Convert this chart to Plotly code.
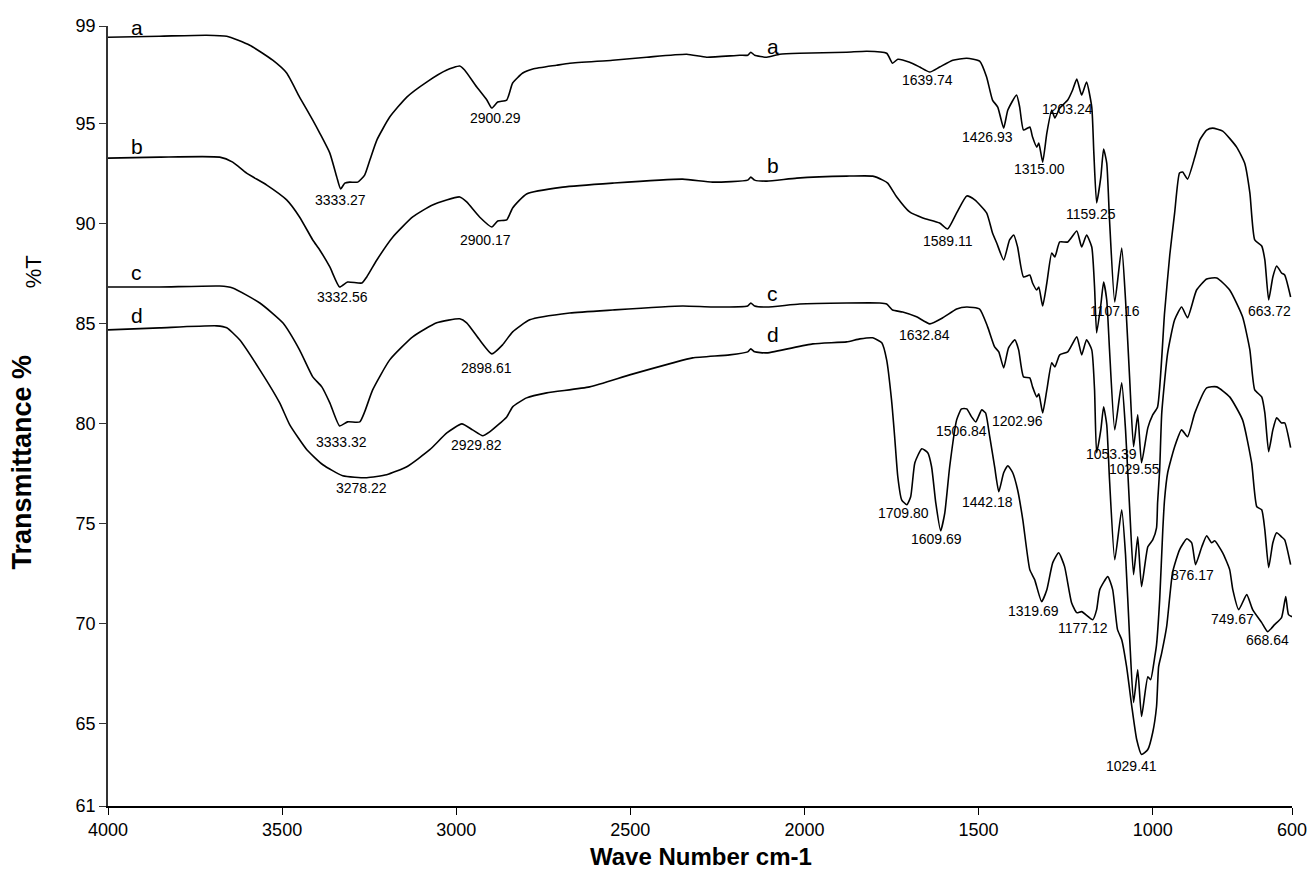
import plotly.graph_objects as go

# ---------------- data (wavenumber cm-1, transmittance %) ----------------
wn_a = [4000, 3852, 3717, 3659, 3593, 3527, 3487, 3450, 3412, 3392, 3363, 3343, 3332, 3320, 3306, 3283,
        3263, 3248, 3228, 3191, 3142, 3085, 3027, 2990, 2976, 2941, 2912, 2898, 2881, 2855, 2838, 2809,
        2780, 2712, 2674, 2551, 2453, 2338, 2281, 2186, 2163, 2154, 2143, 2108, 2071, 2014, 1879, 1821,
        1764, 1747, 1732, 1698, 1669, 1640, 1612, 1574, 1534, 1497, 1477, 1460, 1445, 1428, 1416, 1391,
        1382, 1371, 1353, 1345, 1333, 1327, 1316, 1304, 1290, 1281, 1267, 1244, 1230, 1218, 1204, 1190,
        1175, 1169, 1161, 1149, 1141, 1132, 1124, 1109, 1089, 1078, 1066, 1055, 1043, 1032, 1014, 1000,
        986, 966, 951, 937, 923, 914, 900, 879, 865, 845, 828, 799, 759, 736, 721, 707, 687, 678, 667,
        655, 644, 630, 621, 604]
t_a = [99.31, 99.36, 99.41, 99.36, 98.91, 98.16, 97.52, 96.32, 95.17, 94.52, 93.52, 92.32, 91.73, 92.02,
       92.07, 92.07, 92.42, 93.17, 94.17, 95.32, 96.32, 97.07, 97.67, 97.87, 97.67, 96.82, 96.17, 95.77,
       96.07, 96.17, 97.02, 97.52, 97.72, 97.91, 98.01, 98.16, 98.31, 98.46, 98.31, 98.41, 98.41, 98.56,
       98.41, 98.31, 98.46, 98.51, 98.56, 98.61, 98.51, 98.01, 98.21, 98.06, 97.82, 97.57, 97.82, 98.16,
       98.26, 98.11, 97.32, 96.17, 95.82, 94.77, 95.67, 96.42, 95.82, 94.67, 94.82, 94.32, 93.82, 94.02,
       93.07, 94.52, 95.67, 95.27, 95.77, 96.17, 96.67, 97.22, 96.42, 97.07, 95.82, 93.52, 91.03, 92.32,
       93.72, 93.02, 90.18, 86.08, 88.78, 86.18, 82.19, 78.85, 80.44, 78.05, 79.79, 80.44, 80.84, 85.53,
       88.43, 90.53, 92.52, 92.57, 92.22, 93.32, 94.17, 94.67, 94.77, 94.62, 93.82, 93.02, 91.53, 89.18,
       88.88, 88.18, 86.18, 87.33, 87.88, 87.53, 87.43, 86.33]

wn_b = [4000, 3852, 3679, 3642, 3602, 3544, 3487, 3450, 3412, 3392, 3363, 3335, 3312, 3271, 3257, 3228,
        3182, 3125, 3068, 2990, 2970, 2933, 2898, 2881, 2855, 2838, 2798, 2694, 2551, 2350, 2264, 2163,
        2154, 2143, 2108, 2022, 1879, 1804, 1775, 1761, 1735, 1698, 1660, 1612, 1589, 1563, 1534, 1511,
        1477, 1460, 1448, 1428, 1411, 1399, 1388, 1371, 1353, 1345, 1333, 1327, 1316, 1304, 1290, 1281,
        1267, 1244, 1218, 1204, 1190, 1175, 1167, 1161, 1149, 1141, 1132, 1124, 1109, 1089, 1078, 1066,
        1055, 1043, 1032, 1014, 1000, 989, 986, 980, 974, 957, 937, 917, 900, 874, 845, 816, 779, 742,
        721, 707, 687, 678, 667, 655, 644, 630, 621, 604]
t_b = [93.27, 93.32, 93.32, 93.07, 92.52, 91.92, 91.18, 90.33, 89.18, 88.68, 87.83, 86.83, 87.08, 87.03,
       87.33, 88.18, 89.33, 90.33, 90.93, 91.33, 91.08, 90.33, 89.83, 90.13, 90.18, 90.78, 91.48, 91.82,
       92.02, 92.22, 92.07, 92.17, 92.32, 92.17, 92.12, 92.27, 92.37, 92.37, 92.17, 92.02, 91.33, 90.58,
       90.28, 90.03, 89.73, 90.53, 91.38, 91.18, 90.53, 89.53, 89.03, 88.18, 89.18, 89.43, 88.83, 87.33,
       87.43, 87.03, 86.68, 86.83, 85.88, 87.03, 88.53, 88.33, 89.08, 89.08, 89.63, 88.83, 89.43, 88.83,
       86.83, 84.54, 85.93, 87.08, 86.18, 83.69, 79.69, 82.04, 79.69, 75.70, 72.46, 74.35, 71.86, 73.85,
       74.20, 74.80, 76.05, 77.70, 80.54, 83.54, 85.19, 85.83, 85.29, 86.68, 87.23, 87.28, 86.68, 85.34,
       83.69, 81.69, 81.34, 80.54, 78.60, 79.69, 80.29, 80.04, 80.04, 78.80]

wn_c = [4000, 3852, 3679, 3642, 3564, 3498, 3450, 3412, 3386, 3363, 3335, 3312, 3277, 3263, 3240, 3191,
        3125, 3056, 2990, 2970, 2933, 2898, 2867, 2838, 2789, 2674, 2551, 2350, 2264, 2163, 2154, 2143,
        2108, 2014, 1879, 1784, 1764, 1747, 1718, 1678, 1640, 1603, 1563, 1534, 1497, 1474, 1454, 1442,
        1428, 1414, 1396, 1385, 1371, 1353, 1345, 1333, 1327, 1316, 1304, 1290, 1281, 1267, 1244, 1218,
        1204, 1190, 1175, 1167, 1161, 1149, 1141, 1132, 1124, 1109, 1089, 1078, 1066, 1055, 1043, 1032,
        1014, 1006, 994, 989, 980, 971, 966, 957, 937, 917, 900, 879, 845, 816, 779, 742, 716, 701, 687,
        678, 667, 655, 644, 630, 621, 604]
t_c = [86.83, 86.83, 86.88, 86.78, 86.03, 85.04, 83.69, 82.34, 81.84, 81.04, 79.89, 80.09, 80.09, 80.59,
       81.69, 83.19, 84.34, 85.04, 85.24, 85.04, 84.19, 83.49, 83.94, 84.59, 85.19, 85.53, 85.68, 85.88,
       85.83, 85.88, 86.03, 85.88, 85.83, 85.98, 86.03, 86.03, 85.98, 85.68, 85.58, 85.34, 84.99, 85.29,
       85.73, 85.83, 85.73, 84.84, 83.84, 83.59, 82.79, 83.79, 84.19, 83.69, 82.34, 82.29, 81.84, 81.34,
       81.49, 80.54, 81.69, 83.04, 82.84, 83.44, 83.59, 84.34, 83.44, 84.19, 83.69, 81.69, 78.55, 79.69,
       80.84, 79.94, 77.20, 73.20, 75.70, 73.45, 69.21, 66.07, 67.71, 65.37, 67.36, 67.21, 68.36, 68.96,
       71.21, 74.70, 76.20, 77.55, 78.85, 79.69, 79.35, 80.54, 81.79, 81.84, 81.34, 80.19, 78.05, 75.85,
       75.70, 74.70, 72.81, 74.05, 74.55, 74.35, 74.20, 72.96]

wn_d = [4000, 3852, 3688, 3659, 3622, 3564, 3507, 3478, 3429, 3383, 3326, 3257, 3200, 3142, 3076, 3027,
        2984, 2953, 2924, 2904, 2855, 2838, 2798, 2740, 2617, 2502, 2378, 2321, 2215, 2163, 2154, 2143,
        2108, 1976, 1879, 1841, 1804, 1778, 1764, 1750, 1741, 1732, 1721, 1706, 1695, 1683, 1663, 1646,
        1635, 1623, 1609, 1597, 1583, 1563, 1549, 1534, 1520, 1508, 1491, 1480, 1468, 1454, 1442, 1428,
        1416, 1402, 1388, 1373, 1353, 1339, 1319, 1304, 1287, 1270, 1253, 1233, 1218, 1204, 1172, 1161,
        1152, 1129, 1115, 1101, 1089, 1075, 1060, 1046, 1032, 1014, 1000, 989, 983, 974, 960, 943, 923,
        902, 888, 877, 859, 845, 831, 822, 799, 779, 770, 753, 730, 713, 687, 670, 650, 630, 618, 610, 600]
t_d = [84.69, 84.79, 84.89, 84.79, 84.19, 82.69, 81.04, 79.94, 78.70, 77.95, 77.40, 77.30, 77.45, 77.85,
       78.70, 79.54, 79.99, 79.69, 79.40, 79.59, 80.34, 80.84, 81.29, 81.54, 81.84, 82.44, 83.04, 83.29,
       83.44, 83.59, 83.74, 83.59, 83.54, 83.99, 84.09, 84.24, 84.29, 84.04, 83.19, 81.19, 79.35, 77.35,
       76.20, 75.95, 76.35, 78.05, 78.75, 78.55, 77.85, 76.05, 74.65, 75.55, 77.85, 80.19, 80.74, 80.74,
       80.34, 80.09, 80.69, 80.54, 79.35, 77.85, 76.60, 77.55, 77.90, 77.55, 76.70, 75.20, 72.71, 72.21,
       71.11, 71.71, 73.06, 73.55, 72.86, 71.06, 70.56, 70.61, 70.21, 70.71, 71.71, 72.36, 71.71, 69.71,
       69.21, 67.86, 65.87, 64.22, 63.47, 63.72, 64.57, 65.87, 67.86, 68.56, 69.86, 72.56, 73.70, 74.25,
       74.05, 72.96, 73.85, 74.40, 74.05, 74.15, 73.55, 72.71, 71.71, 70.71, 71.46, 70.71, 70.06, 69.61,
       69.96, 70.31, 71.36, 70.46, 70.36]

series = [("a", wn_a, t_a), ("b", wn_b, t_b), ("c", wn_c, t_c), ("d", wn_d, t_d)]

x_ticks = [4000, 3500, 3000, 2500, 2000, 1500, 1000, 600]
x_tick_text = ["4000", "3500", "3000", "2500", "2000", "1500", "1000", "600"]
y_ticks = [60.9, 65, 70, 75, 80, 85, 90, 95, 99.87]
y_tick_text = ["61", "65", "70", "75", "80", "85", "90", "95", "99"]

# peak labels: (text, wavenumber, transmittance at label centre)
peak_labels = [
    ("3333.27", 3332, 91.18), ("3332.56", 3326, 86.33), ("3333.32", 3329, 79.10),
    ("2900.29", 2887, 95.27), ("2900.17", 2915, 89.18), ("2898.61", 2913, 82.79),
    ("2929.82", 2941, 78.95), ("3278.22", 3271, 76.80), ("1639.74", 1646, 97.17),
    ("1426.93", 1474, 94.32), ("1203.24", 1244, 95.72), ("1315.00", 1324, 92.72),
    ("1589.11", 1589, 89.13), ("1159.25", 1178, 90.48), ("1107.16", 1109, 85.64),
    ("663.72", 664, 85.64), ("1632.84", 1655, 84.44), ("1202.96", 1388, 80.14),
    ("1506.84", 1548, 79.64), ("1053.39", 1118, 78.50), ("1029.55", 1052, 77.75),
    ("1709.80", 1715, 75.55), ("1609.69", 1620, 74.25), ("1442.18", 1474, 76.10),
    ("1319.69", 1342, 70.66), ("1177.12", 1201, 69.81), ("876.17", 885, 72.46),
    ("749.67", 770, 70.26), ("668.64", 670, 69.21), ("1029.41", 1060, 62.92),
]
# curve letters inside the plot: (text, wavenumber, transmittance)
curve_letters = [
    ("b", 3918, 93.87), ("c", 3918, 87.53), ("d", 3918, 85.39),
    ("a", 2091, 98.86), ("b", 2091, 92.92), ("c", 2091, 86.53), ("d", 2091, 84.44),
]

# ---------------- figure ----------------
fig = go.Figure()
for name, xs, ys in series:
    fig.add_trace(go.Scatter(x=xs, y=ys, mode="lines", name=name,
                             line=dict(color="black", width=1.6, shape="spline", smoothing=0.5),
                             showlegend=False, hoverinfo="skip"))

ann = []
for txt, x, y in peak_labels:
    ann.append(dict(x=x, y=y, xref="x", yref="y", text=txt, showarrow=False,
                    font=dict(family="Arial", size=14, color="black")))
for txt, x, y in curve_letters:
    ann.append(dict(x=x, y=y, xref="x", yref="y", text=txt, showarrow=False,
                    font=dict(family="Arial", size=21, color="black")))
# top-left "a" sits just above the curve, at the top edge of the plot
ann.append(dict(x=0.0245, y=1.0, xref="paper", yref="paper", text="a", showarrow=False,
                yanchor="middle", xanchor="center", yshift=-1,
                font=dict(family="Arial", size=21, color="black")))
ann.append(dict(x=-0.0726, y=0.4405, xref="paper", yref="paper", text="<b>Transmittance %</b>",
                showarrow=False, textangle=-90, xanchor="center", yanchor="middle",
                font=dict(family="Arial", size=27, color="black")))
ann.append(dict(x=-0.0628, y=0.685, xref="paper", yref="paper", text="%T",
                showarrow=False, textangle=-90, xanchor="center", yanchor="middle",
                font=dict(family="Arial", size=22, color="black")))
ann.append(dict(x=0.501, y=-0.0647, xref="paper", yref="paper", text="<b>Wave Number cm-1</b>",
                showarrow=False, xanchor="center", yanchor="middle",
                font=dict(family="Arial", size=24, color="black")))

fig.update_layout(
    width=1311, height=879,
    margin=dict(l=108, r=19, t=26, b=73),
    paper_bgcolor="white", plot_bgcolor="white",
    annotations=ann,
    xaxis=dict(range=[4000, 600], tickmode="array", tickvals=x_ticks, ticktext=x_tick_text,
               showgrid=False, zeroline=False, showline=True, linecolor="black", linewidth=1.5,
               ticks="outside", ticklen=7, tickcolor="black", automargin=False,
               tickfont=dict(family="Arial", size=18, color="black")),
    yaxis=dict(range=[60.9, 99.87], tickmode="array", tickvals=y_ticks, ticktext=y_tick_text,
               showgrid=False, zeroline=False, showline=True, linecolor="#333333", linewidth=1.5,
               ticks="outside", ticklen=7, tickcolor="#333333", automargin=False,
               tickfont=dict(family="Arial", size=18, color="black")),
)

# remove the default 8 px page margin so the figure fills the window exactly
fig.write_html("out.html", config={"displayModeBar": False},
               post_script="document.body.style.margin='0';")
